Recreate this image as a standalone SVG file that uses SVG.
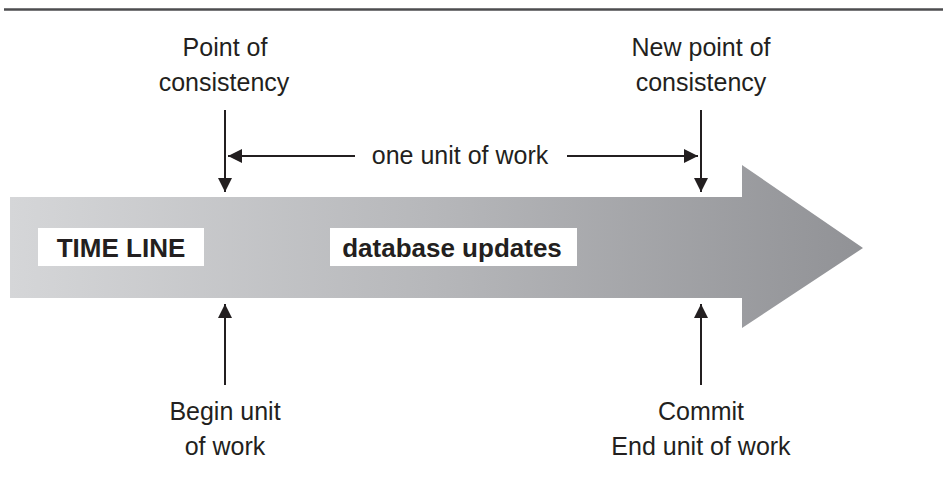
<svg xmlns="http://www.w3.org/2000/svg" width="943" height="483" viewBox="0 0 943 483">
<style>
.t{font-family:"Liberation Sans",Arial,sans-serif;font-size:25px;fill:#231f20;text-anchor:middle}
.b{font-family:"Liberation Sans",Arial,sans-serif;font-size:26px;font-weight:bold;fill:#231f20;text-anchor:middle}
.c{stroke:#231f20;stroke-width:2;fill:none}
</style>
<defs>
<linearGradient id="g" x1="10" y1="0" x2="862" y2="0" gradientUnits="userSpaceOnUse">
<stop offset="0" stop-color="#d5d6d8"/>
<stop offset="0.5" stop-color="#b6b7ba"/>
<stop offset="1" stop-color="#919296"/>
</linearGradient>
<marker id="ah2" viewBox="0 0 10 10" refX="10" refY="5" markerWidth="14" markerHeight="14" markerUnits="userSpaceOnUse" orient="auto">
<path d="M0,0 L10,5 L0,10 Z" fill="#231f20"/>
</marker>
</defs>
<rect width="943" height="483" fill="#fff"/>
<line x1="4" y1="9.5" x2="943" y2="9.5" stroke="#4d4d4f" stroke-width="2.5"/>
<g id="timeline">
<path d="M10,197 L742,197 L742,165 L863,248 L742,328 L742,298 L10,298 Z" fill="url(#g)"/>
</g>
<g id="timeline-label">
<rect x="38" y="228" width="166" height="38" fill="#fff"/>
<text class="b" x="121" y="257">TIME LINE</text>
</g>
<g id="db-updates">
<rect x="330" y="228" width="247" height="38" fill="#fff"/>
<text class="b" x="452" y="257">database updates</text>
</g>
<g id="point-of-consistency">
<text class="t" x="225" y="56">Point of</text>
<text class="t" x="224" y="91">consistency</text>
</g>
<g id="new-point">
<text class="t" x="701" y="56">New point of</text>
<text class="t" x="701" y="91">consistency</text>
</g>
<g id="begin">
<text class="t" x="225" y="420">Begin unit</text>
<text class="t" x="225" y="455">of work</text>
</g>
<g id="commit">
<text class="t" x="701" y="420">Commit</text>
<text class="t" x="701" y="455">End unit of work</text>
</g>
<g id="unit-label">
<text class="t" x="460" y="164">one unit of work</text>
</g>
<g id="connectors">
<path class="c" d="M225,110 V192" marker-end="url(#ah2)"/>
<path class="c" d="M701,110 V192" marker-end="url(#ah2)"/>
<path class="c" d="M225,385 V304" marker-end="url(#ah2)"/>
<path class="c" d="M701,385 V304" marker-end="url(#ah2)"/>
<path class="c" d="M355,156 H228" marker-end="url(#ah2)"/>
<path class="c" d="M567,156 H698" marker-end="url(#ah2)"/>
</g>
</svg>
